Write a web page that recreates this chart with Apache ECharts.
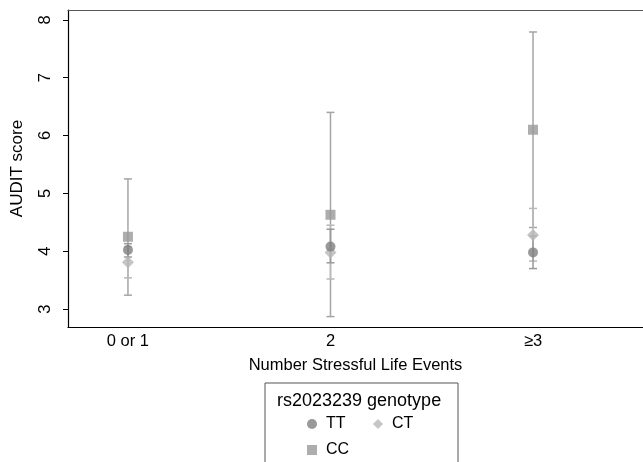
<!DOCTYPE html>
<html>
<head>
<meta charset="utf-8">
<title>AUDIT score by stressful life events</title>
<script src="https://cdn.jsdelivr.net/npm/echarts@6/dist/echarts.min.js"></script>
<style>
body{margin:0;background:#fff;}
#chart{width:643px;height:462px;}
</style>
</head>
<body>
<div id="chart"></div>
<script>

// categories on the x axis (placed at 1, 2, 3)
const categories = ["0 or 1", "2", "≥3"]
const yTicks = [3, 4, 5, 6, 7, 8]

// genotype means and 95% CI bounds
const ttMean = [4.02, 4.08, 3.98]
const ttLow  = [3.90, 3.80, 3.70]
const ttHigh = [4.13, 4.38, 4.26]

const ctMean = [3.81, 3.98, 4.28]
const ctLow  = [3.54, 3.52, 3.83]
const ctHigh = [4.08, 4.45, 4.74]

const ccMean = [4.25, 4.63, 6.10]
const ccLow  = [3.24, 2.87, 4.41]
const ccHigh = [5.25, 6.40, 7.79]

const font = "Liberation Sans, Arial, sans-serif"

function points(mean){
  return mean.map((v,i)=>[i+1, v])
}

function bars(low, high){
  return low.map((v,i)=>[i+1, v, high[i]])
}

function errorSeries(name, low, high, color){
  return {
    name: name,
    type: "custom",
    z: 2,
    data: bars(low, high),
    renderItem: function(params, api){
      const x = api.value(0)
      const lo = api.coord([x, api.value(1)])
      const hi = api.coord([x, api.value(2)])
      const w = 4
      const style = { stroke: color, lineWidth: 1.5 }
      return {
        type: "group",
        children: [
          { type: "line", shape: { x1: lo[0], y1: lo[1], x2: hi[0], y2: hi[1] }, style: style },
          { type: "line", shape: { x1: lo[0]-w, y1: lo[1], x2: lo[0]+w, y2: lo[1] }, style: style },
          { type: "line", shape: { x1: hi[0]-w, y1: hi[1], x2: hi[0]+w, y2: hi[1] }, style: style }
        ]
      }
    }
  }
}

const chart = echarts.init(document.getElementById("chart"))

chart.setOption({
  animation: false,
  title: {
    text: "rs2023239 genotype",
    left: 277,
    top: 392,
    padding: 0,
    textStyle: { fontFamily: font, fontSize: 18, fontWeight: "normal", color: "#000" }
  },
  legend: {
    data: ["TT", "CT", "CC"],
    left: 265,
    top: 383,
    width: 126,
    padding: [33, 29, 20, 42],
    itemGap: 10,
    itemWidth: 10,
    itemHeight: 10,
    borderColor: "#555",
    borderWidth: 1,
    borderRadius: 0,
    textStyle: { fontFamily: font, fontSize: 16, color: "#000", width: 37, lineHeight: 15, padding: [0,0,0,4] }
  },
  grid: { left: 68, right: 0, top: 10, bottom: 135 },
  xAxis: [{
    type: "value",
    min: 0.704,
    max: 3.543,
    splitLine: { show: false },
    axisTick: { show: false },
    axisLine: { show: true, lineStyle: { color: "#000", width: 1.2 } },
    axisLabel: {
      customValues: [1, 2, 3],
      formatter: v => categories[Math.round(v)-1],
      margin: 6,
      color: "#000",
      fontFamily: font,
      fontSize: 16.5
    },
    name: "Number Stressful Life Events",
    nameLocation: "middle",
    nameGap: 30,
    nameTextStyle: { fontFamily: font, fontSize: 16.5, color: "#000" }
  }, {
    type: "value",
    position: "top",
    min: 0.704,
    max: 3.543,
    splitLine: { show: false },
    axisTick: { show: false },
    axisLabel: { show: false },
    axisLine: { show: true, onZero: false, lineStyle: { color: "#555", width: 1.2 } }
  }],
  yAxis: {
    type: "value",
    min: 2.69,
    max: 8.17,
    splitLine: { show: false },
    axisLine: { show: true, onZero: false, lineStyle: { color: "#000", width: 1.2 } },
    axisTick: { show: true, length: 5, customValues: yTicks, lineStyle: { color: "#000" } },
    axisLabel: {
      customValues: yTicks,
      rotate: 90,
      margin: 14,
      color: "#000",
      fontFamily: font,
      fontSize: 16.5
    },
    name: "AUDIT score",
    nameLocation: "middle",
    nameGap: 42,
    nameTextStyle: { fontFamily: font, fontSize: 17, color: "#000" }
  },
  series: [
    errorSeries("CC ci", ccLow, ccHigh, "#a5a5a5"),
    errorSeries("CT ci", ctLow, ctHigh, "#b9b9b9"),
    errorSeries("TT ci", ttLow, ttHigh, "#9a9a9a"),
    {
      name: "CC", type: "scatter", z: 3,
      symbol: "rect", symbolSize: 10,
      itemStyle: { color: "#999999" },
      data: points(ccMean)
    },
    {
      name: "CT", type: "scatter", z: 3,
      symbol: "diamond", symbolSize: 12,
      itemStyle: { color: "#b6b6b6" },
      data: points(ctMean)
    },
    {
      name: "TT", type: "scatter", z: 4,
      symbol: "circle", symbolSize: 10,
      itemStyle: { color: "#7f7f7f" },
      data: points(ttMean)
    }
  ]
})

</script>
</body>
</html>
